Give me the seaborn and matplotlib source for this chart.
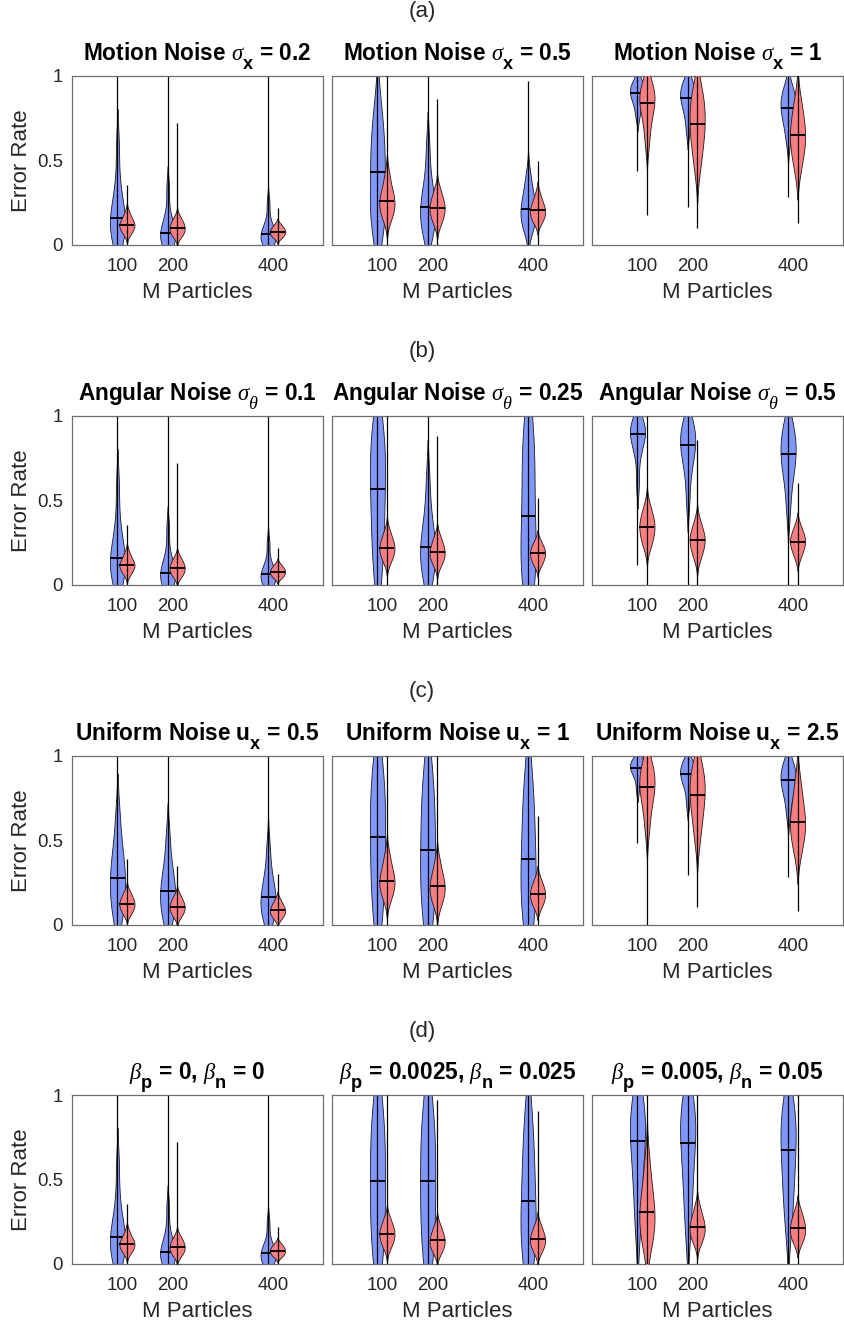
import matplotlib
matplotlib.use("Agg")
import numpy as np
import pandas as pd
import seaborn as sns
import matplotlib.pyplot as plt
import matplotlib._mathtext as mathtext_impl
from matplotlib.colors import to_rgba

# ---------------------------------------------------------------- data
PARTICLES = [100, 200, 400]
METHODS = ["Method A", "Method B"]
COLORS = {"Method A": "#7f97fb", "Method B": "#fd7e7e"}

# Deciles (10th ... 90th percentile) of the error rate, one list per particle
# count; *_rng holds the lowest and highest error rate observed.

# sigma_x = 0.2 / sigma_theta = 0.1 / beta = 0 (same reference setting)
base_dec_a = [[0.030, 0.060, 0.090, 0.120, 0.156, 0.190, 0.250, 0.360, 0.580],
              [0.000, 0.015, 0.030, 0.050, 0.070, 0.090, 0.120, 0.180, 0.330],
              [0.000, 0.012, 0.025, 0.042, 0.060, 0.075, 0.095, 0.130, 0.240]]
base_dec_b = [[0.060, 0.080, 0.095, 0.107, 0.117, 0.128, 0.140, 0.160, 0.190],
              [0.045, 0.062, 0.075, 0.088, 0.100, 0.112, 0.125, 0.142, 0.165],
              [0.040, 0.050, 0.060, 0.069, 0.077, 0.085, 0.094, 0.105, 0.120]]
base_rng_a = [[0, 1], [0, 1], [0, 1]]
base_rng_b = [[0, 0.351], [0, 0.722], [0, 0.218]]

# Motion noise sigma_x = 0.5
motion05_dec_a = [[0.090, 0.150, 0.200, 0.280, 0.430, 0.500, 0.580, 0.680, 0.820],
                  [0.060, 0.100, 0.140, 0.180, 0.220, 0.260, 0.310, 0.400, 0.580],
                  [0.080, 0.120, 0.150, 0.180, 0.212, 0.240, 0.280, 0.330, 0.410]]
motion05_dec_b = [[0.150, 0.180, 0.210, 0.235, 0.256, 0.280, 0.310, 0.350, 0.420],
                  [0.120, 0.150, 0.180, 0.200, 0.218, 0.235, 0.260, 0.290, 0.330],
                  [0.130, 0.150, 0.170, 0.186, 0.202, 0.218, 0.235, 0.260, 0.300]]
motion05_rng_a = [[0, 1], [0, 1], [0, 0.972]]
motion05_rng_b = [[0, 1], [0, 0.861], [0, 0.496]]

# Motion noise sigma_x = 1
motion1_dec_a = [[0.760, 0.820, 0.860, 0.880, 0.897, 0.915, 0.930, 0.950, 0.970],
                 [0.680, 0.770, 0.820, 0.850, 0.871, 0.895, 0.920, 0.940, 0.965],
                 [0.620, 0.700, 0.750, 0.785, 0.812, 0.840, 0.870, 0.900, 0.940]]
motion1_dec_b = [[0.600, 0.700, 0.770, 0.810, 0.839, 0.870, 0.900, 0.930, 0.960],
                 [0.450, 0.550, 0.620, 0.670, 0.718, 0.770, 0.820, 0.870, 0.930],
                 [0.440, 0.520, 0.570, 0.610, 0.647, 0.690, 0.730, 0.790, 0.870]]
motion1_rng_a = [[0.437, 1], [0.222, 1], [0.282, 1]]
motion1_rng_b = [[0.177, 1], [0.095, 1], [0.127, 1]]

# Angular noise sigma_theta = 0.25
angular025_dec_a = [[0.060, 0.180, 0.320, 0.450, 0.567, 0.670, 0.770, 0.870, 0.950],
                    [0.040, 0.080, 0.130, 0.180, 0.224, 0.270, 0.330, 0.430, 0.620],
                    [0.020, 0.070, 0.140, 0.250, 0.408, 0.560, 0.710, 0.850, 0.950]]
angular025_dec_b = [[0.130, 0.160, 0.185, 0.200, 0.218, 0.235, 0.255, 0.280, 0.320],
                    [0.110, 0.140, 0.160, 0.177, 0.192, 0.210, 0.230, 0.255, 0.290],
                    [0.110, 0.135, 0.155, 0.170, 0.184, 0.198, 0.213, 0.232, 0.260]]
angular025_rng_a = [[0, 1], [0, 1], [0, 1]]
angular025_rng_b = [[0, 1], [0, 0.881], [0, 0.515]]

# Angular noise sigma_theta = 0.5
angular05_dec_a = [[0.600, 0.760, 0.830, 0.870, 0.891, 0.910, 0.930, 0.950, 0.970],
                   [0.500, 0.660, 0.740, 0.790, 0.826, 0.860, 0.900, 0.930, 0.960],
                   [0.450, 0.600, 0.680, 0.730, 0.772, 0.810, 0.860, 0.910, 0.950]]
angular05_dec_b = [[0.220, 0.260, 0.290, 0.320, 0.341, 0.365, 0.390, 0.420, 0.470],
                   [0.150, 0.190, 0.220, 0.245, 0.263, 0.283, 0.305, 0.335, 0.380],
                   [0.160, 0.195, 0.220, 0.240, 0.255, 0.272, 0.290, 0.315, 0.350]]
angular05_rng_a = [[0.113, 1], [0, 1], [0, 1]]
angular05_rng_b = [[0, 1], [0, 0.855], [0, 0.602]]

# Uniform noise u_x = 0.5
uniform05_dec_a = [[0.050, 0.100, 0.160, 0.220, 0.277, 0.330, 0.390, 0.480, 0.650],
                   [0.030, 0.070, 0.110, 0.155, 0.200, 0.240, 0.290, 0.370, 0.520],
                   [0.030, 0.060, 0.090, 0.125, 0.162, 0.200, 0.240, 0.310, 0.450]]
uniform05_dec_b = [[0.060, 0.080, 0.097, 0.110, 0.123, 0.136, 0.150, 0.168, 0.195],
                   [0.045, 0.065, 0.080, 0.093, 0.105, 0.118, 0.132, 0.150, 0.175],
                   [0.035, 0.050, 0.063, 0.075, 0.085, 0.096, 0.108, 0.124, 0.148]]
uniform05_rng_a = [[0, 1], [0, 1], [0, 1]]
uniform05_rng_b = [[0, 0.386], [0, 0.350], [0, 0.301]]

# Uniform noise u_x = 1
uniform1_dec_a = [[0.040, 0.150, 0.280, 0.400, 0.519, 0.630, 0.740, 0.850, 0.950],
                  [0.030, 0.120, 0.230, 0.330, 0.442, 0.560, 0.680, 0.800, 0.930],
                  [0.020, 0.090, 0.180, 0.280, 0.388, 0.500, 0.620, 0.760, 0.900]]
uniform1_dec_b = [[0.150, 0.185, 0.215, 0.240, 0.261, 0.285, 0.315, 0.355, 0.420],
                  [0.110, 0.150, 0.180, 0.205, 0.226, 0.250, 0.280, 0.320, 0.380],
                  [0.100, 0.125, 0.148, 0.166, 0.182, 0.198, 0.216, 0.240, 0.275]]
uniform1_rng_a = [[0, 1], [0, 1], [0, 1]]
uniform1_rng_b = [[0, 1], [0, 1], [0, 0.642]]

# Uniform noise u_x = 2.5
uniform25_dec_a = [[0.800, 0.870, 0.900, 0.918, 0.931, 0.944, 0.956, 0.968, 0.980],
                   [0.720, 0.810, 0.850, 0.875, 0.891, 0.910, 0.930, 0.950, 0.970],
                   [0.660, 0.750, 0.800, 0.830, 0.855, 0.880, 0.910, 0.940, 0.965]]
uniform25_dec_b = [[0.560, 0.670, 0.740, 0.785, 0.814, 0.850, 0.890, 0.930, 0.960],
                   [0.500, 0.600, 0.670, 0.725, 0.768, 0.810, 0.860, 0.900, 0.950],
                   [0.420, 0.490, 0.540, 0.580, 0.610, 0.650, 0.700, 0.770, 0.860]]
uniform25_rng_a = [[0.481, 1], [0.291, 1], [0.283, 1]]
uniform25_rng_b = [[0, 1], [0.105, 1], [0.081, 1]]

# beta_p = 0.0025, beta_n = 0.025
beta1_dec_a = [[0.030, 0.130, 0.250, 0.370, 0.489, 0.600, 0.720, 0.840, 0.950],
               [0.030, 0.130, 0.250, 0.370, 0.491, 0.600, 0.720, 0.840, 0.950],
               [0.020, 0.080, 0.160, 0.260, 0.372, 0.480, 0.610, 0.750, 0.900]]
beta1_dec_b = [[0.090, 0.120, 0.142, 0.160, 0.176, 0.193, 0.212, 0.237, 0.270],
               [0.060, 0.085, 0.105, 0.122, 0.137, 0.153, 0.172, 0.197, 0.230],
               [0.065, 0.090, 0.110, 0.128, 0.143, 0.158, 0.177, 0.200, 0.235]]
beta1_rng_a = [[0, 1], [0, 1], [0, 1]]
beta1_rng_b = [[0, 1], [0, 0.970], [0, 0.907]]

# beta_p = 0.005, beta_n = 0.05
beta2_dec_a = [[0.200, 0.380, 0.520, 0.630, 0.725, 0.800, 0.860, 0.920, 0.960],
               [0.200, 0.370, 0.500, 0.620, 0.717, 0.790, 0.860, 0.920, 0.960],
               [0.220, 0.360, 0.480, 0.580, 0.671, 0.750, 0.830, 0.900, 0.950]]
beta2_dec_b = [[0.100, 0.160, 0.210, 0.260, 0.303, 0.350, 0.410, 0.490, 0.620],
               [0.120, 0.150, 0.175, 0.196, 0.216, 0.236, 0.260, 0.290, 0.340],
               [0.120, 0.145, 0.170, 0.190, 0.210, 0.230, 0.252, 0.280, 0.320]]
beta2_rng_a = [[0, 1], [0, 1], [0, 1]]
beta2_rng_b = [[0, 1], [0, 1], [0, 1]]

ROW_TAGS = ["(a)", "(b)", "(c)", "(d)"]
PANELS = [
    [(r"Motion Noise $\sigma_{\mathbf{x}}$ = 0.2", base_dec_a, base_dec_b, base_rng_a, base_rng_b),
     (r"Motion Noise $\sigma_{\mathbf{x}}$ = 0.5", motion05_dec_a, motion05_dec_b, motion05_rng_a, motion05_rng_b),
     (r"Motion Noise $\sigma_{\mathbf{x}}$ = 1", motion1_dec_a, motion1_dec_b, motion1_rng_a, motion1_rng_b)],
    [(r"Angular Noise $\sigma_{\theta}$ = 0.1", base_dec_a, base_dec_b, base_rng_a, base_rng_b),
     (r"Angular Noise $\sigma_{\theta}$ = 0.25", angular025_dec_a, angular025_dec_b, angular025_rng_a, angular025_rng_b),
     (r"Angular Noise $\sigma_{\theta}$ = 0.5", angular05_dec_a, angular05_dec_b, angular05_rng_a, angular05_rng_b)],
    [(r"Uniform Noise u$_{\mathbf{x}}$ = 0.5", uniform05_dec_a, uniform05_dec_b, uniform05_rng_a, uniform05_rng_b),
     (r"Uniform Noise u$_{\mathbf{x}}$ = 1", uniform1_dec_a, uniform1_dec_b, uniform1_rng_a, uniform1_rng_b),
     (r"Uniform Noise u$_{\mathbf{x}}$ = 2.5", uniform25_dec_a, uniform25_dec_b, uniform25_rng_a, uniform25_rng_b)],
    [(r"$\beta_{\mathbf{p}}$ = 0, $\beta_{\mathbf{n}}$ = 0", base_dec_a, base_dec_b, base_rng_a, base_rng_b),
     (r"$\beta_{\mathbf{p}}$ = 0.0025, $\beta_{\mathbf{n}}$ = 0.025", beta1_dec_a, beta1_dec_b, beta1_rng_a, beta1_rng_b),
     (r"$\beta_{\mathbf{p}}$ = 0.005, $\beta_{\mathbf{n}}$ = 0.05", beta2_dec_a, beta2_dec_b, beta2_rng_a, beta2_rng_b)],
]

# ---------------------------------------------------------------- style
sns.set_style("white")
plt.rcParams["font.family"] = ["Liberation Sans", "DejaVu Sans"]
plt.rcParams["mathtext.fontset"] = "custom"
plt.rcParams["mathtext.rm"] = "Liberation Sans"
plt.rcParams["mathtext.it"] = "Liberation Serif:italic"
plt.rcParams["mathtext.bf"] = "Liberation Sans:bold"
# deeper, larger subscripts in the panel titles
mathtext_impl.FontConstantsBase.sub1 = 0.9
mathtext_impl.SHRINK_FACTOR = 0.8

TEXT = "#262626"
SPINE = "#6e6e6e"
W, H = 844, 1326
fig = plt.figure(figsize=(W / 100, H / 100), dpi=100)

COL_LEFT = [72, 332, 592]
ROW_TOP = [76, 416, 756, 1095]
AX_W, AX_H = 251, 168.5
TITLE_RISE = 16  # title baseline above the top of the axes, in pixels


def span_at(verts, y):
    """Left and right x of a closed outline at height y."""
    xs = []
    for (x0, y0), (x1, y1) in zip(verts[:-1], verts[1:]):
        if y0 != y1 and (y0 - y) * (y1 - y) <= 0:
            xs.append(x0 + (y - y0) * (x1 - x0) / (y1 - y0))
    return min(xs), max(xs)


def draw_panel(ax, dec_a, dec_b, rng_a, rng_b):
    rows = []
    for method, decs in zip(METHODS, (dec_a, dec_b)):
        for m, vals in zip(PARTICLES, decs):
            rows += [{"M": m, "method": method, "error": v} for v in vals]
    df = pd.DataFrame(rows)
    sns.violinplot(data=df, x="M", y="error", hue="method", hue_order=METHODS,
                   palette=COLORS, saturation=1, native_scale=True, dodge=True,
                   width=0.376, gap=-0.606, inner=None, density_norm="width",
                   linewidth=0.6, linecolor="#1a1a1a", legend=False, ax=ax)

    decs_by = {METHODS[0]: dec_a, METHODS[1]: dec_b}
    rng_by = {METHODS[0]: rng_a, METHODS[1]: rng_b}
    for coll in list(ax.collections):
        face = coll.get_facecolor()[0]
        method = min(METHODS, key=lambda k: np.abs(np.array(to_rgba(COLORS[k])) - face).sum())
        hidx = METHODS.index(method)
        verts = coll.get_paths()[0].vertices
        cx = 0.5 * (verts[:, 0].min() + verts[:, 0].max())
        i = int(np.argmin([abs(cx - m) for m in PARTICLES]))
        z = 1 + 2 * hidx
        coll.set_zorder(z)
        med = float(np.median(decs_by[method][i]))
        x0, x1 = span_at(verts, med)
        ax.hlines(med, x0, x1, colors="black", linewidth=1.4, zorder=z + 0.5)
        lo, hi = rng_by[method][i]
        ax.vlines(cx, lo, hi, colors="black", linewidth=0.9, zorder=z + 0.6)


for r, row in enumerate(PANELS):
    for c, (title, dec_a, dec_b, rng_a, rng_b) in enumerate(row):
        left, top = COL_LEFT[c], ROW_TOP[r]
        ax = fig.add_axes([left / W, 1 - (top + AX_H) / H, AX_W / W, AX_H / H])
        draw_panel(ax, dec_a, dec_b, rng_a, rng_b)
        ax.set_xlim(0, 500)
        ax.set_ylim(0, 1)
        ax.set_xticks(PARTICLES)
        ax.set_xticklabels([str(p) for p in PARTICLES])
        ax.set_yticks([0, 0.5, 1])
        if c == 0:
            ax.set_yticklabels(["0", "0.5", "1"])
        else:
            ax.set_yticklabels([])
        ax.tick_params(length=0, labelsize=13.4, labelcolor=TEXT)
        ax.tick_params(axis="x", pad=10)
        ax.tick_params(axis="y", pad=6.5)
        ax.set_xlabel("")
        ax.set_ylabel("")
        for sp in ax.spines.values():
            sp.set_color(SPINE)
            sp.set_linewidth(0.9)
        ax.set_title(title, fontsize=16.3, fontweight="bold", color="black",
                     y=1 + TITLE_RISE / AX_H, va="baseline", pad=0)
        fig.text((left + AX_W / 2) / W, 1 - (top + AX_H + 48) / H, "M Particles",
                 ha="center", va="center", fontsize=16, color=TEXT)
        if c == 0:
            fig.text(22 / W, 1 - (top + AX_H / 2) / H, "Error Rate", rotation=90,
                     ha="center", va="center", fontsize=16, color=TEXT)
    fig.text(0.5, 1 - (12 + 340 * r) / H, ROW_TAGS[r], ha="center", va="center",
             fontsize=16, color=TEXT)

fig.savefig("out.png", dpi=100)
